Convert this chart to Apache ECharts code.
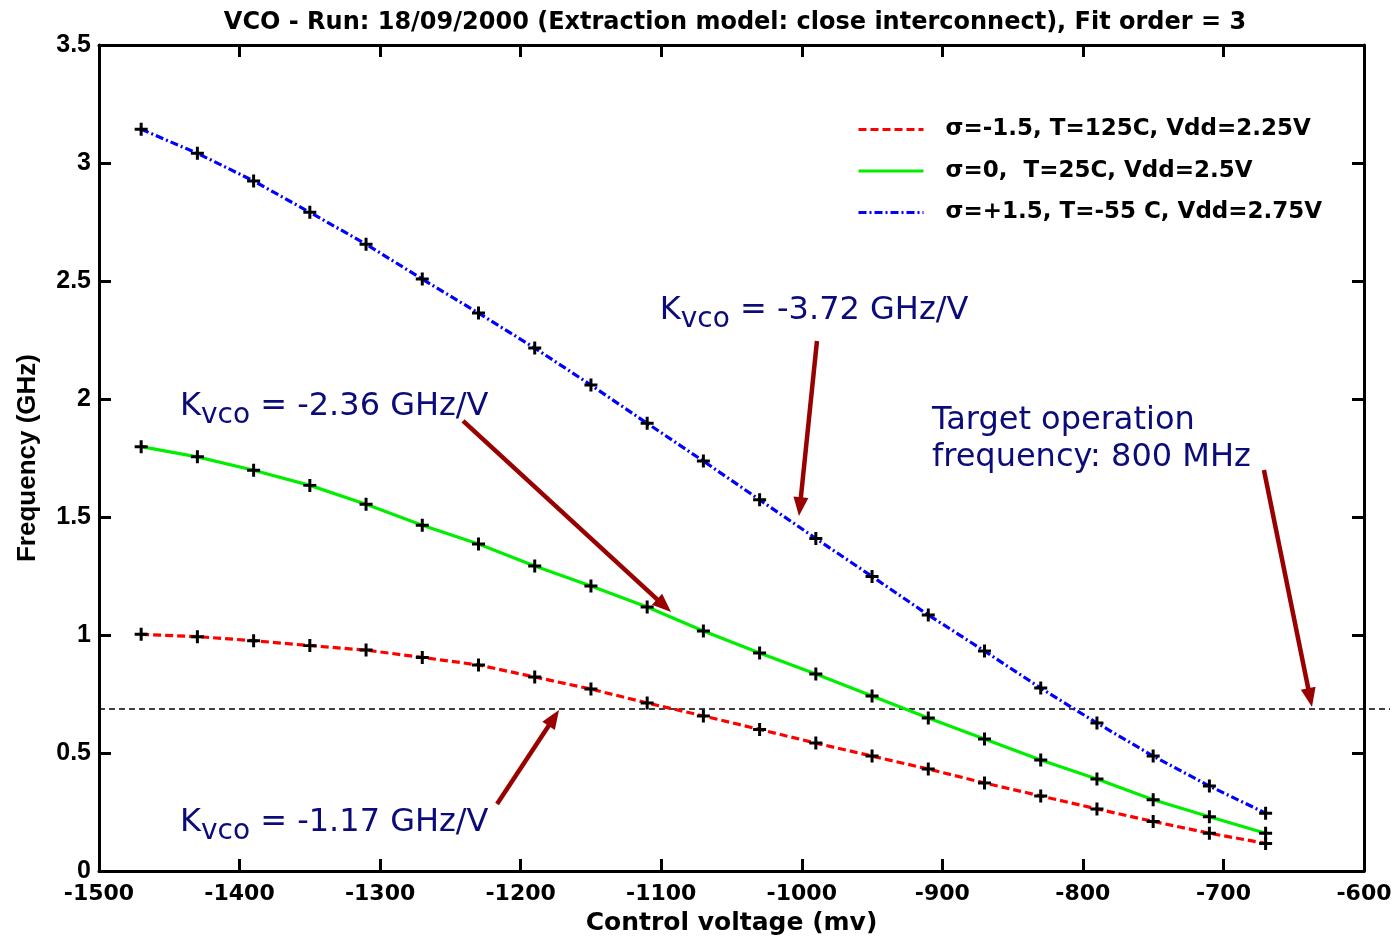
<!DOCTYPE html>
<html><head><meta charset="utf-8">
<script src="https://cdn.jsdelivr.net/npm/echarts@6/dist/echarts.min.js"></script>
<style>html,body{margin:0;padding:0;background:#fff}#c{width:1393px;height:939px}</style>
</head><body><div id="c"></div>
<script>
// ---------- data ----------
const controlVoltage = [-1470,-1430,-1390,-1350,-1310,-1270,-1230,-1190,-1150,-1110,-1070,-1030,-990,-950,-910,-870,-830,-790,-750,-710,-670];
const freqSlow = [1.003,0.993,0.976,0.955,0.936,0.905,0.873,0.822,0.771,0.712,0.657,0.600,0.542,0.487,0.432,0.373,0.318,0.263,0.210,0.160,0.117];
const freqTyp  = [1.798,1.755,1.698,1.634,1.554,1.465,1.386,1.292,1.208,1.119,1.017,0.924,0.835,0.742,0.648,0.559,0.470,0.390,0.302,0.230,0.160];
const freqFast = [3.143,3.041,2.924,2.791,2.656,2.508,2.364,2.216,2.059,1.897,1.737,1.573,1.409,1.248,1.085,0.932,0.775,0.627,0.487,0.360,0.245];
const seriesNames = ['\u03c3=-1.5, T=125C, Vdd=2.25V', '\u03c3=0,  T=25C, Vdd=2.5V', '\u03c3=+1.5, T=-55 C, Vdd=2.75V'];
const targetFreq = 0.686;
const titleText = 'VCO - Run: 18/09/2000 (Extraction model: close interconnect), Fit order = 3';
const xName = 'Control voltage (mv)';
const yName = 'Frequency (GHz)';
const kvcoValues = ['-3.72', '-2.36', '-1.17'];
const targetLines = ['Target operation', 'frequency: 800 MHz'];
// arrows: [fromX, fromY, toX, toY] in data units
const arrows = [[-989.2,2.246,-1002,1.504],[-1241,1.907,-1093,1.097],[-1216.8,0.284,-1172.7,0.682],[-671.2,1.699,-637,0.695]];
// annotation anchors (data units, top-left of text block)
const kvcoAnchors = [[-1101,2.441],[-1442.4,2.036],[-1442.4,0.273]];
const targetAnchor = [-907.4,1.985];

const X_MIN=-1500, X_MAX=-600, Y_MIN=0, Y_MAX=3.5;
const colors = ['#ff0000','#00ee00','#0000ff'];
const lineTypes = [[8,4],'solid',[8,3,2,3]];
const plusPath = 'path://M0,3.85H3.85V0H6.15V3.85H10V6.15H6.15V10H3.85V6.15H0Z';
const ANN = '#0b0b7a', ARROW = '#990000';

const chart = echarts.init(document.getElementById('c'), null, {renderer:'canvas'});
const dataSets = [freqSlow, freqTyp, freqFast];

const series = [];
dataSets.forEach((arr,i)=>{
  series.push({
    name: seriesNames[i], type:'line', symbol:'none', silent:true, z:3,
    data: controlVoltage.map((x,j)=>[x,arr[j]]),
    lineStyle:{color:colors[i], width:3.2, type:lineTypes[i]},
    itemStyle:{color:colors[i]}
  });
});
dataSets.forEach((arr,i)=>{
  series.push({
    type:'scatter', symbol:plusPath, symbolSize:13, silent:true, z:4,
    data: controlVoltage.map((x,j)=>[x,arr[j]]),
    itemStyle:{color:'#000', opacity:1}
  });
});
// target dashed line
series.push({
  type:'custom', silent:true, clip:false, z:2,
  data:[[X_MIN, targetFreq]],
  renderItem:(params, api)=>{
    const p = api.coord([api.value(0), api.value(1)]);
    return {type:'line', shape:{x1:p[0], y1:p[1], x2:api.getWidth()-3, y2:p[1]},
      style:{stroke:'#000', lineWidth:1.5, lineDash:[6,4]}};
  }
});
// arrows
series.push({
  type:'custom', silent:true, clip:false, z:5,
  dimensions:['x1','y1','x2','y2'],
  encode:{x:[0,2], y:[1,3]},
  data: arrows,
  renderItem:(params, api)=>{
    const p1 = api.coord([api.value(0), api.value(1)]);
    const p2 = api.coord([api.value(2), api.value(3)]);
    const dx=p2[0]-p1[0], dy=p2[1]-p1[1], L=Math.hypot(dx,dy), ux=dx/L, uy=dy/L;
    const hl=19, hw=7.5;
    const bx=p2[0]-ux*hl, by=p2[1]-uy*hl;
    return {type:'group', children:[
      {type:'line', shape:{x1:p1[0],y1:p1[1],x2:bx+ux*2,y2:by+uy*2}, style:{stroke:ARROW, lineWidth:4.5}},
      {type:'polygon', shape:{points:[[p2[0],p2[1]],[bx-uy*hw,by+ux*hw],[bx+uy*hw,by-ux*hw]]}, style:{fill:ARROW}}
    ]};
  }
});
// Kvco annotations
series.push({
  type:'custom', silent:true, clip:false, z:6,
  data: kvcoAnchors.map((a,i)=>[a[0],a[1],i]),
  renderItem:(params, api)=>{
    const p = api.coord([api.value(0), api.value(1)]);
    const i = api.value(2);
    return {type:'text', x:p[0], y:p[1], style:{
      text:'{k|K}{s|vco}{k| = ' + kvcoValues[i] + ' GHz/V}',
      align:'left', verticalAlign:'top', fill:ANN,
      rich:{
        k:{fontFamily:'DejaVu Sans', fontSize:32, lineHeight:30, verticalAlign:'top', fill:ANN, color:ANN},
        s:{fontFamily:'DejaVu Sans', fontSize:28, lineHeight:50, verticalAlign:'middle', fill:ANN, color:ANN}
      }
    }};
  }
});
// target annotation
series.push({
  type:'custom', silent:true, clip:false, z:6,
  data:[[targetAnchor[0], targetAnchor[1]]],
  renderItem:(params, api)=>{
    const p = api.coord([api.value(0), api.value(1)]);
    return {type:'text', x:p[0], y:p[1], style:{
      text: targetLines.join('\n'), align:'left', verticalAlign:'top', fill:ANN,
      font:'32px "DejaVu Sans"', lineHeight:37
    }};
  }
});

const axisFont = {fontFamily:'Liberation Sans', fontWeight:'bold', color:'#000'};
const wideFont = {fontFamily:'DejaVu Sans', fontWeight:'bold', color:'#000'};
chart.setOption({
  animation:false,
  backgroundColor:'#fff',
  title:{text:titleText, left:730, top:6, textAlign:'center',
    textStyle:Object.assign({fontSize:24}, wideFont)},
  grid:{left:99, right:29, top:45, bottom:68, containLabel:false, outerBoundsMode:'none'},
  legend:{
    data: seriesNames, orient:'vertical', left:857, top:118, padding:0,
    itemWidth:65, itemHeight:26, itemGap:18.5,
    itemStyle:{opacity:0},
    lineStyle:{width:3},
    textStyle:{fontFamily:'DejaVu Sans', fontWeight:'bold', fontSize:23, color:'#000', padding:[0,0,0,17]},
    selectedMode:false
  },
  xAxis:[{
    type:'value', min:X_MIN, max:X_MAX, interval:100, position:'bottom',
    name:xName, nameLocation:'middle', nameGap:40, nameMoveOverlap:false,
    nameTextStyle:Object.assign({fontSize:25}, wideFont),
    axisLine:{show:true, onZero:false, lineStyle:{color:'#000', width:3}},
    axisTick:{show:true, inside:true, length:12, lineStyle:{color:'#000', width:3}},
    axisLabel:Object.assign({fontSize:22, margin:12, formatter:v=>String(v)}, wideFont),
    splitLine:{show:false}
  },{
    type:'value', min:X_MIN, max:X_MAX, interval:100, position:'top',
    axisLine:{show:true, onZero:false, lineStyle:{color:'#000', width:3}},
    axisTick:{show:true, inside:true, length:12, lineStyle:{color:'#000', width:3}},
    axisLabel:{show:false}, splitLine:{show:false}
  }],
  yAxis:[{
    type:'value', min:Y_MIN, max:Y_MAX, interval:0.5, position:'left',
    name:yName, nameLocation:'middle', nameGap:58, nameMoveOverlap:false,
    nameTextStyle:Object.assign({fontSize:26}, axisFont),
    axisLine:{show:true, onZero:false, lineStyle:{color:'#000', width:3}},
    axisTick:{show:true, inside:true, length:12, lineStyle:{color:'#000', width:3}},
    axisLabel:Object.assign({fontSize:25, margin:8, formatter:v=>String(v)}, axisFont),
    splitLine:{show:false}
  },{
    type:'value', min:Y_MIN, max:Y_MAX, interval:0.5, position:'right',
    axisLine:{show:true, onZero:false, lineStyle:{color:'#000', width:3}},
    axisTick:{show:true, inside:true, length:12, lineStyle:{color:'#000', width:3}},
    axisLabel:{show:false}, splitLine:{show:false}
  }],
  series: series
});
</script>
</body></html>
